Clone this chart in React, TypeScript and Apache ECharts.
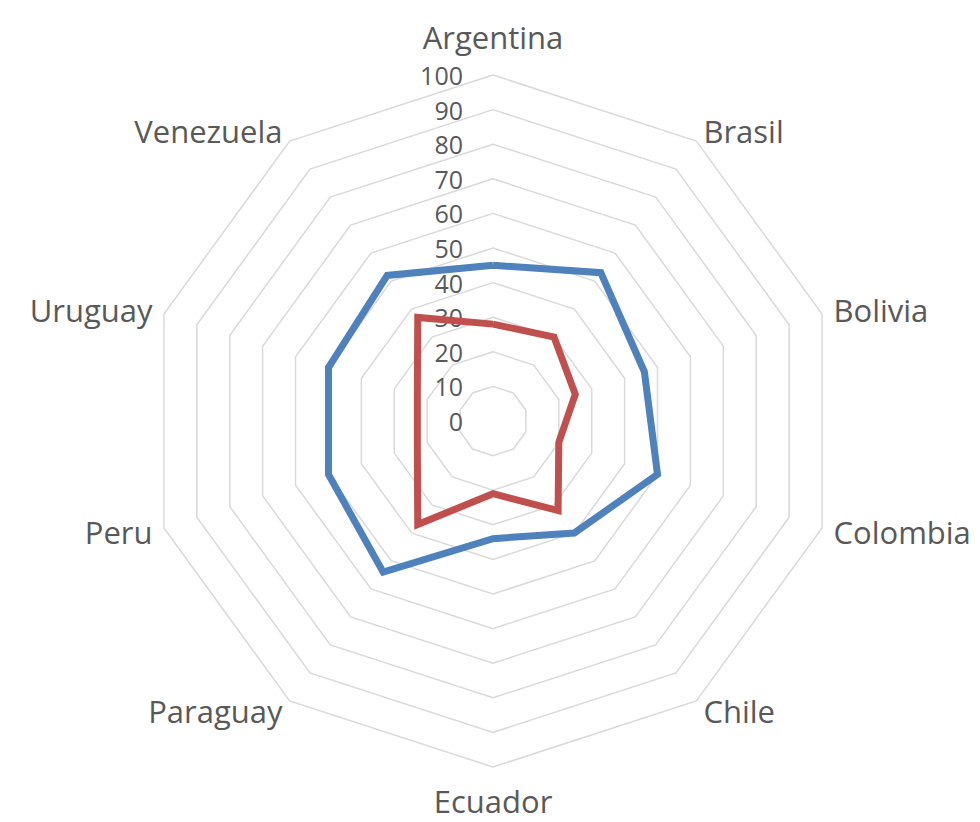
import React, { useEffect, useRef } from "react";
import * as echarts from "echarts";

// Categories in clockwise order starting at the top
const countries = [
  "Argentina",
  "Brasil",
  "Bolivia",
  "Colombia",
  "Chile",
  "Ecuador",
  "Paraguay",
  "Peru",
  "Uruguay",
  "Venezuela",
];
const seriesBlue = [45, 53, 46, 50, 40, 34, 54, 50, 50, 52];
const seriesRed = [28, 30, 25, 20, 32, 21, 37, 23, 23, 37];
const axisMax = 100;
const axisSplit = 10;

// ECharts radar runs counter-clockwise; reorder so the picture runs clockwise
const order = [0, ...countries.map((_, i) => i).slice(1).reverse()];
const reorder = (arr: any[]) => order.map((i) => arr[i]);

export default function App() {
  const ref = useRef<HTMLDivElement>(null);
  useEffect(() => {
    document.body.style.margin = "0";
    if (!ref.current) return;
    const chart = echarts.init(ref.current, undefined, { renderer: "svg" });
    const indicator = reorder(countries).map((name: string) => {
      const ind: any = { name, min: 0, max: axisMax };
      if (name === "Argentina") {
        ind.axisLabel = { show: true };
        ind.nameGap = 23;
      }
      if (name === "Ecuador") ind.nameGap = 18;
      return ind;
    });
    chart.setOption({
      animation: false,
      backgroundColor: "#ffffff",
      radar: {
        center: [493, 421],
        radius: 346,
        startAngle: 90,
        shape: "polygon",
        splitNumber: axisSplit,
        nameGap: 12,
        axisName: {
          color: "#595959",
          fontSize: 31,
          fontFamily: "Open Sans",
        },
        indicator,
        axisLine: { show: false },
        axisTick: { show: false },
        axisLabel: {
          show: false,
          color: "#595959",
          fontSize: 25,
          fontFamily: "Open Sans",
          margin: 30,
        },
        splitLine: { lineStyle: { color: "#D9D9D9", width: 1.5 } },
        splitArea: { show: false },
      },
      series: [
        {
          type: "radar",
          symbol: "none",
          data: [
            {
              value: reorder(seriesBlue),
              name: "Serie 1",
              lineStyle: { color: "#4F81BD", width: 7, join: "miter" },
              itemStyle: { color: "#4F81BD" },
            },
            {
              value: reorder(seriesRed),
              name: "Serie 2",
              lineStyle: { color: "#C0504D", width: 7, join: "miter" },
              itemStyle: { color: "#C0504D" },
            },
          ],
        },
      ],
    });
    return () => chart.dispose();
  }, []);
  return <div ref={ref} style={{ width: 980, height: 822 }} />;
}
